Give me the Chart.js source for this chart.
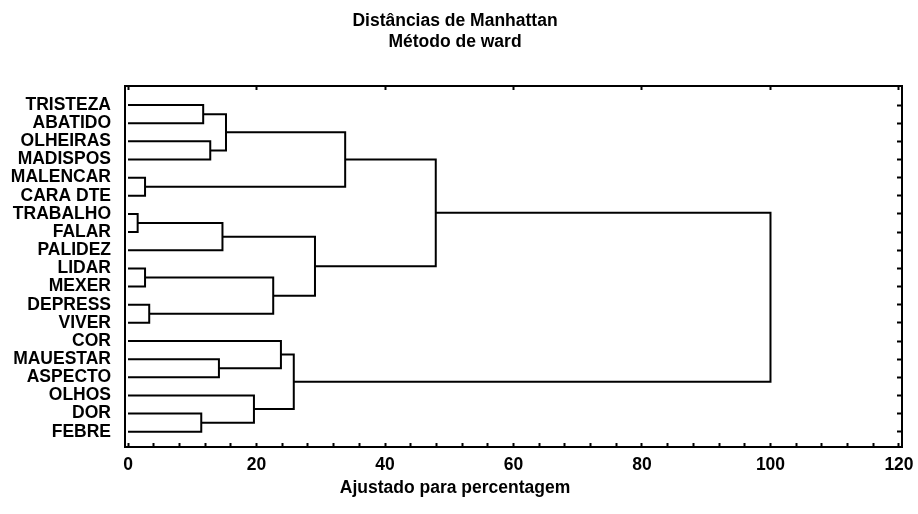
<!DOCTYPE html>
<html>
<head>
<meta charset="utf-8">
<script src="https://cdn.jsdelivr.net/npm/chart.js@4.4.1/dist/chart.umd.min.js"></script>
<style>
html, body { margin: 0; padding: 0; background: #ffffff; }
canvas { display: block; }
</style>
</head>
<body>
<canvas id="c" width="918" height="514"></canvas>
<script>
// ---- Data ----
const titleLines = ['Distâncias de Manhattan', 'Método de ward'];
const xAxisTitle = 'Ajustado para percentagem';
const leafLabels = ['TRISTEZA', 'ABATIDO', 'OLHEIRAS', 'MADISPOS', 'MALENCAR', 'CARA DTE',
  'TRABALHO', 'FALAR', 'PALIDEZ', 'LIDAR', 'MEXER', 'DEPRESS', 'VIVER', 'COR',
  'MAUESTAR', 'ASPECTO', 'OLHOS', 'DOR', 'FEBRE'];
// Merge steps: leaves are ids 0..18, merge k creates cluster id 19+k
const mergeLeft   = [6, 4, 9, 11, 17, 0, 2, 14, 19, 24, 16, 21, 13, 31, 27, 28, 34, 35];
const mergeRight  = [7, 5, 10, 12, 18, 1, 3, 15, 8, 25, 23, 22, 26, 29, 30, 20, 33, 32];
const mergeHeight = [1.5, 2.65, 2.65, 3.3, 11.4, 11.7, 12.8, 14.15, 14.7, 15.25, 19.6, 22.6, 23.8, 25.8, 29.1, 33.8, 47.9, 100];
const xTickLabels = [0, 20, 40, 60, 80, 100, 120];
const xMinorStep = 4;

// ---- Build dendrogram links ----
const nodeY = leafLabels.map((_, i) => i);
const nodeH = leafLabels.map(() => 0);
const datasets = mergeLeft.map((a, k) => {
  const b = mergeRight[k];
  const h = mergeHeight[k];
  const ds = {
    data: [
      { x: nodeH[a], y: nodeY[a] },
      { x: h, y: nodeY[a] },
      { x: h, y: nodeY[b] },
      { x: nodeH[b], y: nodeY[b] }
    ],
    xAxisID: 'x',
    yAxisID: 'y',
    showLine: true,
    borderColor: '#000000',
    borderWidth: 2,
    pointRadius: 0,
    pointHoverRadius: 0,
    tension: 0,
    fill: false
  };
  nodeY.push((nodeY[a] + nodeY[b]) / 2);
  nodeH.push(h);
  return ds;
});

const FAMILY = "'Liberation Sans', Arial, Helvetica, sans-serif";
const font = { family: FAMILY, size: 17.5, weight: 'bold', lineHeight: 1.2 };
const border = { display: true, color: '#000000', width: 2 };
const X_MIN = -0.47, X_MAX = 120.47;
const Y_MIN = -1.05, Y_MAX = 18.84;

Chart.defaults.font.family = FAMILY;
Chart.defaults.color = '#000000';

function noPad(s) { s.paddingLeft = 0; s.paddingRight = 0; s.paddingTop = 0; s.paddingBottom = 0; }

new Chart(document.getElementById('c'), {
  type: 'scatter',
  data: { datasets },
  options: {
    responsive: false,
    devicePixelRatio: 1,
    animation: false,
    events: [],
    layout: { padding: { left: 4, right: 12, top: 0, bottom: 0 } },
    plugins: {
      legend: { display: false },
      tooltip: { enabled: false },
      title: {
        display: true,
        text: titleLines,
        color: '#000000',
        font: font,
        padding: { top: 11, bottom: 33 }
      },
      subtitle: {
        display: true,
        position: 'bottom',
        text: xAxisTitle,
        color: '#000000',
        font: font,
        padding: { top: 0, bottom: 15 }
      }
    },
    scales: {
      x: {
        type: 'linear', position: 'bottom', min: X_MIN, max: X_MAX,
        afterBuildTicks: s => {
          const t = [];
          for (let v = xTickLabels[0]; v <= xTickLabels[xTickLabels.length - 1]; v += xMinorStep) t.push({ value: v });
          s.ticks = t;
        },
        afterFit: s => { s.height = 31; noPad(s); },
        grid: { drawOnChartArea: false, drawTicks: true, tickLength: -4, tickWidth: 2, tickColor: '#000000' },
        border: border,
        ticks: {
          autoSkip: false, maxRotation: 0, minRotation: 0, padding: 11.5,
          color: '#000000', font: font,
          callback: v => xTickLabels.includes(v) ? String(v) : ''
        }
      },
      x2: {
        type: 'linear', position: 'top', min: X_MIN, max: X_MAX,
        afterBuildTicks: s => { s.ticks = xTickLabels.map(v => ({ value: v })); },
        afterFit: s => { s.height = 0; noPad(s); },
        grid: { drawOnChartArea: false, drawTicks: true, tickLength: -4, tickWidth: 2, tickColor: '#000000' },
        border: border,
        ticks: { display: false }
      },
      y: {
        type: 'linear', position: 'left', reverse: true, min: Y_MIN, max: Y_MAX,
        afterBuildTicks: s => { s.ticks = leafLabels.map((_, i) => ({ value: i })); },
        afterFit: s => { s.width = 121; noPad(s); },
        grid: { drawOnChartArea: false, drawTicks: false },
        border: border,
        ticks: {
          autoSkip: false, padding: 14, color: '#000000', font: font,
          callback: v => leafLabels[v]
        }
      },
      y2: {
        type: 'linear', position: 'right', reverse: true, min: Y_MIN, max: Y_MAX,
        afterBuildTicks: s => { s.ticks = leafLabels.map((_, i) => ({ value: i })); },
        afterFit: s => { s.width = 4; noPad(s); },
        grid: { drawOnChartArea: false, drawTicks: true, tickLength: -5, tickWidth: 2, tickColor: '#000000' },
        border: border,
        ticks: { display: false }
      }
    }
  }
});
</script>
</body>
</html>
